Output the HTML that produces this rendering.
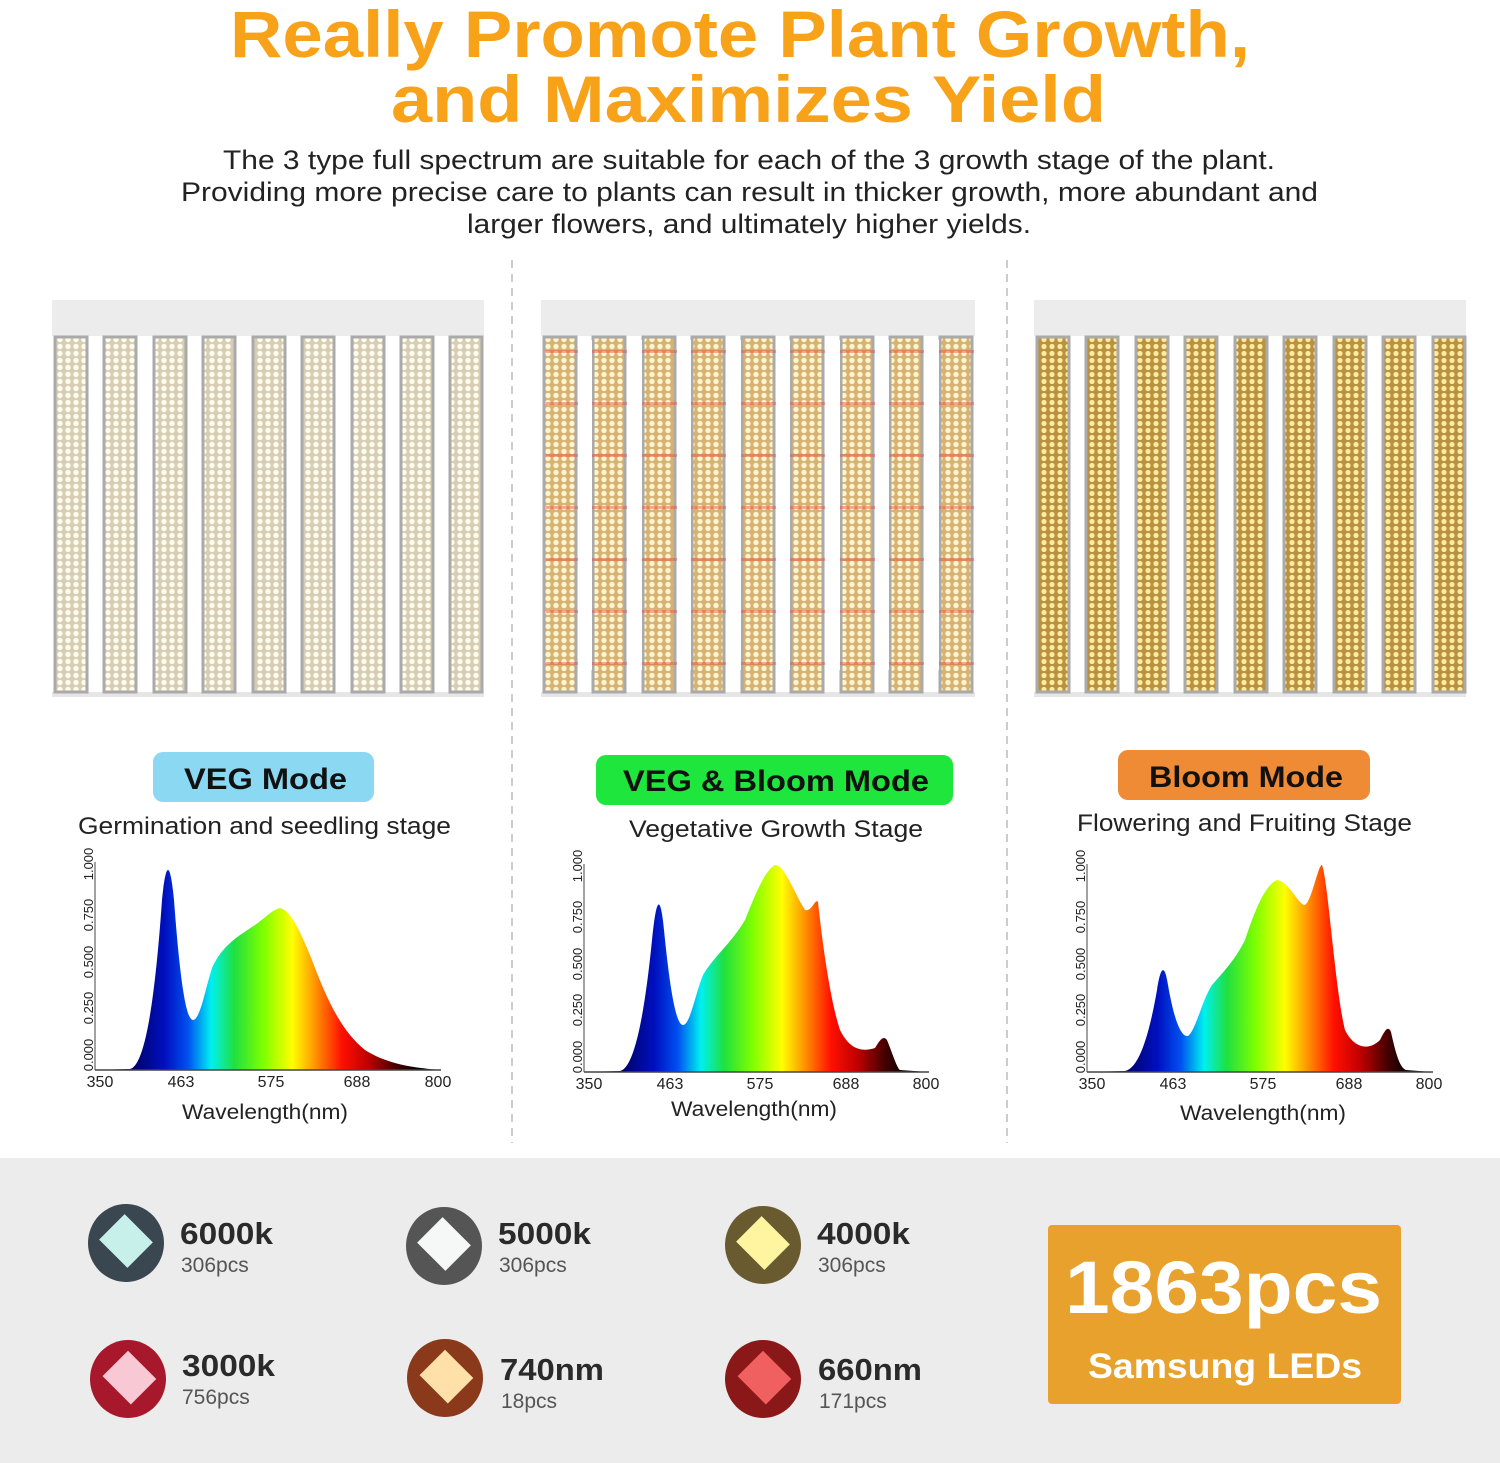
<!DOCTYPE html>
<html><head><meta charset="utf-8"><style>
html,body{margin:0;padding:0;background:#fff}
svg{display:block}
text{font-family:"Liberation Sans",sans-serif}
</style></head><body>
<svg width="1500" height="1463" viewBox="0 0 1500 1463" xmlns="http://www.w3.org/2000/svg">
<defs>
<pattern id="p1" x="0" y="0" width="8" height="7" patternUnits="userSpaceOnUse">
<rect width="8" height="7" fill="#d6cdb4"/><circle cx="4" cy="3.5" r="2.7" fill="#fffcee"/></pattern>
<pattern id="p2" x="0" y="0" width="8" height="7" patternUnits="userSpaceOnUse">
<rect width="8" height="7" fill="#d6b274"/><circle cx="4" cy="3.5" r="2.7" fill="#fff4cc"/></pattern>
<pattern id="p3" x="0" y="0" width="8" height="7" patternUnits="userSpaceOnUse">
<rect width="8" height="7" fill="#b99241"/><circle cx="4" cy="3.5" r="2.6" fill="#ffeaa0"/></pattern>
<linearGradient id="g1" gradientUnits="userSpaceOnUse" x1="130" y1="0" x2="420" y2="0">
<stop offset="0" stop-color="#000060"/><stop offset="0.12" stop-color="#0010c0"/><stop offset="0.2" stop-color="#0050f0"/><stop offset="0.28" stop-color="#00f0f0"/><stop offset="0.36" stop-color="#20e040"/><stop offset="0.46" stop-color="#80ff00"/><stop offset="0.56" stop-color="#ffff00"/><stop offset="0.63" stop-color="#ffa000"/><stop offset="0.73" stop-color="#ff1000"/><stop offset="0.82" stop-color="#c00000"/><stop offset="0.92" stop-color="#400000"/><stop offset="1" stop-color="#000"/></linearGradient>
<linearGradient id="g2" href="#g1" gradientUnits="userSpaceOnUse" x1="620" x2="909"/>
<linearGradient id="g3" href="#g1" gradientUnits="userSpaceOnUse" x1="1123" x2="1412"/>
</defs>
<rect x="0" y="0" width="1500" height="1463" fill="#fff"/>
<text x="230" y="57" textLength="1020" lengthAdjust="spacingAndGlyphs" font-size="66" font-weight="bold" fill="#f8a21a">Really Promote Plant Growth,</text>
<text x="391" y="122" textLength="715" lengthAdjust="spacingAndGlyphs" font-size="66" font-weight="bold" fill="#f8a21a">and Maximizes Yield</text>
<g font-size="27" fill="#222">
<text x="223" y="169" textLength="1052" lengthAdjust="spacingAndGlyphs">The 3 type full spectrum are suitable for each of the 3 growth stage of the plant.</text>
<text x="181" y="201" textLength="1137" lengthAdjust="spacingAndGlyphs">Providing more precise care to plants can result in thicker growth, more abundant and</text>
<text x="467" y="233" textLength="564" lengthAdjust="spacingAndGlyphs">larger flowers, and ultimately higher yields.</text></g>
<g stroke="#ccc" stroke-width="2" stroke-dasharray="8,6"><line x1="512" y1="260" x2="512" y2="1143"/><line x1="1007" y1="260" x2="1007" y2="1143"/></g>
<g>
<rect x="52" y="300" width="432" height="36" fill="#ececec"/><rect x="52" y="692" width="432" height="5" fill="#e6e6e6"/>
<rect x="541" y="300" width="434" height="36" fill="#ececec"/><rect x="541" y="692" width="434" height="5" fill="#e6e6e6"/>
<rect x="1034" y="300" width="432" height="36" fill="#ececec"/><rect x="1034" y="692" width="432" height="5" fill="#e6e6e6"/>
</g>
<g stroke="#aaa" stroke-width="3">
<rect x="55" y="337" width="32" height="355" fill="url(#p1)"/><rect x="104" y="337" width="32" height="355" fill="url(#p1)"/><rect x="154" y="337" width="32" height="355" fill="url(#p1)"/><rect x="203" y="337" width="32" height="355" fill="url(#p1)"/><rect x="253" y="337" width="32" height="355" fill="url(#p1)"/><rect x="302" y="337" width="32" height="355" fill="url(#p1)"/><rect x="352" y="337" width="32" height="355" fill="url(#p1)"/><rect x="401" y="337" width="32" height="355" fill="url(#p1)"/><rect x="450" y="337" width="32" height="355" fill="url(#p1)"/>
<rect x="544" y="337" width="32" height="355" fill="url(#p2)"/><rect x="593" y="337" width="32" height="355" fill="url(#p2)"/><rect x="643" y="337" width="32" height="355" fill="url(#p2)"/><rect x="692" y="337" width="32" height="355" fill="url(#p2)"/><rect x="742" y="337" width="32" height="355" fill="url(#p2)"/><rect x="791" y="337" width="32" height="355" fill="url(#p2)"/><rect x="841" y="337" width="32" height="355" fill="url(#p2)"/><rect x="890" y="337" width="32" height="355" fill="url(#p2)"/><rect x="940" y="337" width="32" height="355" fill="url(#p2)"/>
<rect x="1037" y="337" width="32" height="355" fill="url(#p3)"/><rect x="1086" y="337" width="32" height="355" fill="url(#p3)"/><rect x="1136" y="337" width="32" height="355" fill="url(#p3)"/><rect x="1185" y="337" width="32" height="355" fill="url(#p3)"/><rect x="1235" y="337" width="32" height="355" fill="url(#p3)"/><rect x="1284" y="337" width="32" height="355" fill="url(#p3)"/><rect x="1334" y="337" width="32" height="355" fill="url(#p3)"/><rect x="1383" y="337" width="32" height="355" fill="url(#p3)"/><rect x="1433" y="337" width="32" height="355" fill="url(#p3)"/>
</g>
<g fill="#e8503a" opacity="0.45">
<rect x="546" y="350" width="428" height="3"/><rect x="546" y="402" width="428" height="3"/><rect x="546" y="454" width="428" height="3"/><rect x="546" y="506" width="428" height="3"/><rect x="546" y="558" width="428" height="3"/><rect x="546" y="610" width="428" height="3"/><rect x="546" y="662" width="428" height="3"/></g>
<g fill="#fff"><rect x="578" y="340" width="14" height="330"/><rect x="627" y="340" width="15" height="330"/><rect x="677" y="340" width="14" height="330"/><rect x="726" y="340" width="15" height="330"/><rect x="776" y="340" width="14" height="330"/><rect x="825" y="340" width="15" height="330"/><rect x="875" y="340" width="14" height="330"/><rect x="924" y="340" width="15" height="330"/></g>
<rect x="153" y="752" width="221" height="50" rx="10" fill="#8ad8f2"/>
<text x="184" y="789" textLength="163" lengthAdjust="spacingAndGlyphs" font-size="30" font-weight="bold" fill="#111">VEG Mode</text>
<rect x="596" y="755" width="357" height="50" rx="10" fill="#1ee63c"/>
<text x="623" y="791" textLength="306" lengthAdjust="spacingAndGlyphs" font-size="30" font-weight="bold" fill="#111">VEG &amp; Bloom Mode</text>
<rect x="1118" y="750" width="252" height="50" rx="10" fill="#ef8a35"/>
<text x="1149" y="787" textLength="194" lengthAdjust="spacingAndGlyphs" font-size="30" font-weight="bold" fill="#111">Bloom Mode</text>
<g font-size="24" fill="#222">
<text x="78" y="834" textLength="373" lengthAdjust="spacingAndGlyphs">Germination and seedling stage</text>
<text x="629" y="837" textLength="294" lengthAdjust="spacingAndGlyphs">Vegetative Growth Stage</text>
<text x="1077" y="831" textLength="335" lengthAdjust="spacingAndGlyphs">Flowering and Fruiting Stage</text></g>
<path d="M95,1070 L130,1069 C145,1066 155,1000 162,900 C166,860 170,860 174,900 C180,980 186,1020 193,1020 C200,1020 205,990 212,968 C222,945 240,935 255,925 C265,918 272,910 280,908 C290,910 300,930 312,960 C325,995 340,1030 365,1050 C390,1066 420,1068 440,1070 Z" fill="url(#g1)"/>
<line x1="95" y1="1070" x2="441" y2="1070" stroke="#444" stroke-width="1.5"/>
<line x1="95" y1="862" x2="95" y2="1070" stroke="#444" stroke-width="1"/>
<path d="M584,1072 L620,1071 C635,1068 645,1010 652,940 C656,900 660,890 664,930 C670,990 676,1025 683,1025 C690,1025 695,995 703,975 C715,955 730,945 745,920 C755,895 765,870 775,865 C785,865 795,895 805,910 C812,912 815,898 818,902 C822,940 830,1000 840,1030 C850,1050 862,1052 875,1048 C880,1040 883,1035 887,1040 C893,1055 897,1068 900,1070 L928,1072 Z" fill="url(#g2)"/>
<line x1="584" y1="1072" x2="929" y2="1072" stroke="#444" stroke-width="1.5"/>
<line x1="584" y1="864" x2="584" y2="1072" stroke="#444" stroke-width="1"/>
<path d="M1087,1072 L1125,1071 C1140,1068 1150,1030 1157,990 C1160,970 1164,960 1168,985 C1175,1025 1182,1037 1188,1036 C1196,1030 1202,1000 1212,985 C1225,970 1235,960 1245,940 C1255,910 1265,885 1277,880 C1290,882 1298,905 1305,905 C1312,900 1318,865 1322,865 C1328,880 1335,990 1345,1030 C1355,1050 1370,1050 1380,1040 C1385,1030 1388,1025 1391,1032 C1396,1055 1400,1068 1406,1070 L1432,1072 Z" fill="url(#g3)"/>
<line x1="1087" y1="1072" x2="1433" y2="1072" stroke="#444" stroke-width="1.5"/>
<line x1="1087" y1="864" x2="1087" y2="1072" stroke="#444" stroke-width="1"/>
<g font-size="16" fill="#222" text-anchor="middle">
<text x="100" y="1087">350</text><text x="181" y="1087">463</text><text x="271" y="1087">575</text><text x="357" y="1087">688</text><text x="438" y="1087">800</text>
<text x="589" y="1089">350</text><text x="670" y="1089">463</text><text x="760" y="1089">575</text><text x="846" y="1089">688</text><text x="926" y="1089">800</text>
<text x="1092" y="1089">350</text><text x="1173" y="1089">463</text><text x="1263" y="1089">575</text><text x="1349" y="1089">688</text><text x="1429" y="1089">800</text>
</g>
<g font-size="13" fill="#222" text-anchor="middle">
<text transform="translate(93,1055) rotate(-90)">0.000</text><text transform="translate(93,1008) rotate(-90)">0.250</text><text transform="translate(93,962) rotate(-90)">0.500</text><text transform="translate(93,915) rotate(-90)">0.750</text><text transform="translate(93,864) rotate(-90)">1.000</text>
<text transform="translate(582,1057) rotate(-90)">0.000</text><text transform="translate(582,1010) rotate(-90)">0.250</text><text transform="translate(582,964) rotate(-90)">0.500</text><text transform="translate(582,917) rotate(-90)">0.750</text><text transform="translate(582,866) rotate(-90)">1.000</text>
<text transform="translate(1085,1057) rotate(-90)">0.000</text><text transform="translate(1085,1010) rotate(-90)">0.250</text><text transform="translate(1085,964) rotate(-90)">0.500</text><text transform="translate(1085,917) rotate(-90)">0.750</text><text transform="translate(1085,866) rotate(-90)">1.000</text>
</g>
<g font-size="21" fill="#222">
<text x="182" y="1119" textLength="166" lengthAdjust="spacingAndGlyphs">Wavelength(nm)</text><text x="671" y="1116" textLength="166" lengthAdjust="spacingAndGlyphs">Wavelength(nm)</text><text x="1180" y="1120" textLength="166" lengthAdjust="spacingAndGlyphs">Wavelength(nm)</text></g>
<rect x="0" y="1158" width="1500" height="305" fill="#ececec"/>
<g>
<ellipse cx="126" cy="1243" rx="38" ry="39" fill="#3a4650"/><rect x="106" y="1223" width="40" height="36" fill="#c8f0ea" transform="rotate(45 126 1241)"/>
<ellipse cx="444" cy="1246" rx="38" ry="39" fill="#555"/><rect x="424" y="1226" width="40" height="36" fill="#f6f8f8" transform="rotate(45 444 1244)"/>
<ellipse cx="763" cy="1245" rx="38" ry="39" fill="#6a5a30"/><rect x="743" y="1225" width="40" height="36" fill="#fff4a0" transform="rotate(45 763 1243)"/>
<ellipse cx="128" cy="1379" rx="38" ry="39" fill="#a8182c"/><rect x="108" y="1359" width="40" height="36" fill="#f8c8d4" transform="rotate(45 128 1379)"/>
<ellipse cx="445" cy="1378" rx="38" ry="39" fill="#8a3a1a"/><rect x="425" y="1358" width="40" height="36" fill="#ffe0a8" transform="rotate(45 445 1378)"/>
<ellipse cx="763" cy="1379" rx="38" ry="39" fill="#8a1818"/><rect x="743" y="1359" width="40" height="36" fill="#f06060" transform="rotate(45 763 1379)"/>
</g>
<g fill="#2a2a2a" font-weight="bold" font-size="31">
<text x="180" y="1244" textLength="93" lengthAdjust="spacingAndGlyphs">6000k</text><text x="498" y="1244" textLength="93" lengthAdjust="spacingAndGlyphs">5000k</text><text x="817" y="1244" textLength="93" lengthAdjust="spacingAndGlyphs">4000k</text>
<text x="182" y="1376" textLength="93" lengthAdjust="spacingAndGlyphs">3000k</text><text x="500" y="1380" textLength="104" lengthAdjust="spacingAndGlyphs">740nm</text><text x="818" y="1380" textLength="104" lengthAdjust="spacingAndGlyphs">660nm</text></g>
<g fill="#555" font-size="21">
<text x="181" y="1272">306pcs</text><text x="499" y="1272">306pcs</text><text x="818" y="1272">306pcs</text>
<text x="182" y="1404">756pcs</text><text x="501" y="1408">18pcs</text><text x="819" y="1408">171pcs</text></g>
<rect x="1048" y="1225" width="353" height="179" rx="4" fill="#e8a12c"/>
<text x="1065" y="1313" textLength="317" lengthAdjust="spacingAndGlyphs" font-size="74" font-weight="bold" fill="#fff">1863pcs</text>
<text x="1088" y="1378" textLength="274" lengthAdjust="spacingAndGlyphs" font-size="35" font-weight="bold" fill="#fff">Samsung LEDs</text>
</svg>
</body></html>
